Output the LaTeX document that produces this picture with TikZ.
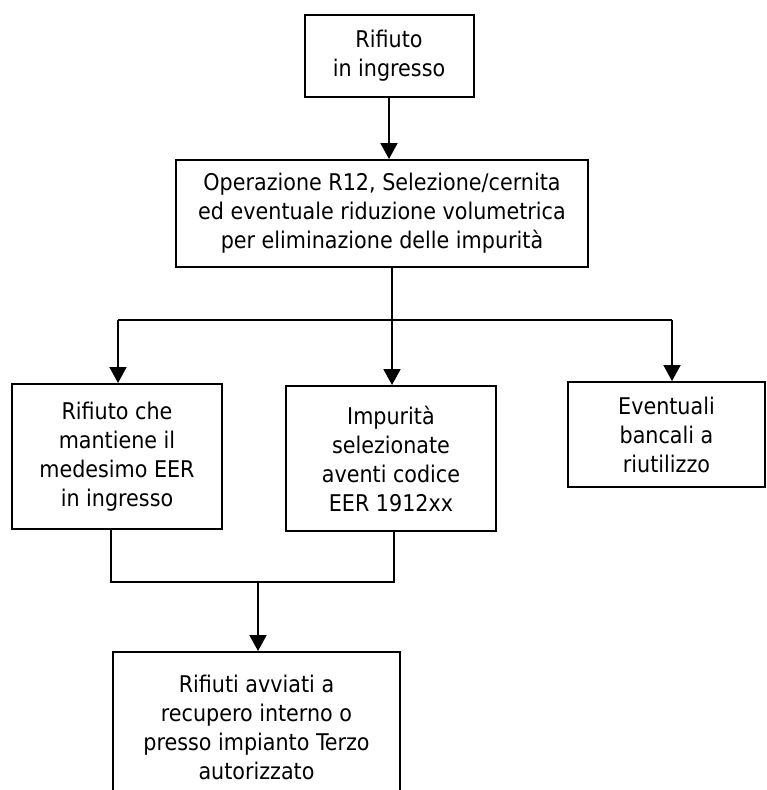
\documentclass[tikz,border=0pt]{standalone}
\usepackage{fontspec}
\setmainfont{DejaVu Sans Condensed}
\usetikzlibrary{arrows.meta}
\tikzset{
  box/.style={draw=black, line width=2pt, rectangle, align=center, inner sep=0pt,
    font=\fontsize{23}{29}\selectfont},
  conn/.style={draw=black, line width=2pt},
  arr/.style={conn, -{Triangle[length=16pt,width=17pt]}}
}
\begin{document}
\begin{tikzpicture}[x=1pt,y=1pt]
\useasboundingbox (0,0) rectangle (766,-790);
\clip (0,0) rectangle (766,-790);
\node[box, minimum width=169pt, minimum height=82pt] (b1) at (389,-56) {Rifiuto\\in ingresso};
\node[box, minimum width=412pt, minimum height=107pt] (b2) at (382,-213.5) {Operazione R12, Selezione/cernita\\ed eventuale riduzione volumetrica\\per eliminazione delle impurità};
\node[box, minimum width=210pt, minimum height=145pt] (ba) at (117,-456.5) {Rifiuto che\\mantiene il\\medesimo EER\\in ingresso};
\node[box, minimum width=210pt, minimum height=145pt] (bb) at (391,-458.5) {Impurità\\selezionate\\aventi codice\\EER 1912xx};
\node[box, minimum width=197pt, minimum height=105pt] (bc) at (666.5,-434.5) {Eventuali\\bancali a\\riutilizzo};
\node[box, minimum width=287pt, minimum height=150pt] (bd) at (256.5,-727) {Rifiuti avviati a\\recupero interno o\\presso impianto Terzo\\autorizzato};

\coordinate (split) at (392,-320);
\coordinate (sl) at (118,-320);
\coordinate (sr) at (672,-320);
\coordinate (jl) at (111,-582);
\coordinate (jr) at (394,-582);
\coordinate (join) at (258,-582);

\draw[arr] (b1.south) -- (b1.south |- b2.north);
\draw[conn] (b2.south -| split) -- (split);
\draw[conn] (sl) -- (sr);
\draw[arr] (sl) -- (sl |- ba.north);
\draw[arr] (split) -- (split |- bb.north);
\draw[arr] (sr) -- (sr |- bc.north);
\draw[conn] (ba.south -| jl) -- (jl) -- (jr) -- (bb.south -| jr);
\draw[arr] (join) -- (join |- bd.north);
\end{tikzpicture}
\end{document}
